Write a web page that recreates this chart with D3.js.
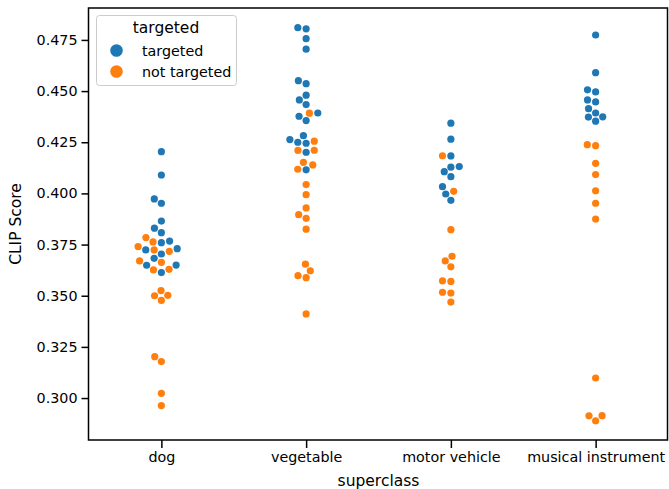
<!DOCTYPE html>
<html>
<head>
<meta charset="utf-8">
<script src="https://cdn.jsdelivr.net/npm/d3@7"></script>
<style>
  html, body { margin: 0; padding: 0; background: #fff; }
  #chart { width: 669px; height: 489px; }
  text { font-family: 'DejaVu Sans', sans-serif; fill: #000; }
</style>
</head>
<body>
<div id="chart"></div>
<script>
const categories = ['dog', 'vegetable', 'motor vehicle', 'musical instrument']
const hueLevels = ['targeted', 'not targeted']
const hueColors = ['#1f77b4', '#ff7f0e']
const yTicks = [0.300, 0.325, 0.350, 0.375, 0.400, 0.425, 0.450, 0.475]

const dogTargeted = [0.4204, 0.4090, 0.3973, 0.3952, 0.3865, 0.3830, 0.3808, 0.3767, 0.3759, 0.3730, 0.3724, 0.3704, 0.3683, 0.3650, 0.3649, 0.3613]
const dogNotTargeted = [0.3784, 0.3763, 0.3740, 0.3724, 0.3717, 0.3670, 0.3663, 0.3629, 0.3626, 0.3525, 0.3502, 0.3500, 0.3477, 0.3202, 0.3178, 0.3023, 0.2963]
const vegetableTargeted = [0.4810, 0.4804, 0.4756, 0.4705, 0.4551, 0.4536, 0.4480, 0.4457, 0.4434, 0.4393, 0.4377, 0.4356, 0.4282, 0.4263, 0.4250, 0.4245, 0.4201, 0.4115]
const vegetableNotTargeted = [0.4392, 0.4255, 0.4211, 0.4210, 0.4152, 0.4139, 0.4118, 0.4043, 0.3994, 0.3929, 0.3896, 0.3878, 0.3825, 0.3654, 0.3622, 0.3598, 0.3588, 0.3411]
const motorTargeted = [0.4343, 0.4265, 0.4183, 0.4131, 0.4128, 0.4106, 0.4082, 0.4033, 0.3997, 0.3966]
const motorNotTargeted = [0.4184, 0.4010, 0.3823, 0.3693, 0.3670, 0.3641, 0.3573, 0.3570, 0.3517, 0.3513, 0.3469]
const musicTargeted = [0.4774, 0.4590, 0.4506, 0.4496, 0.4457, 0.4447, 0.4414, 0.4393, 0.4374, 0.4373, 0.4353]
const musicNotTargeted = [0.4238, 0.4233, 0.4147, 0.4092, 0.4013, 0.3952, 0.3875, 0.3098, 0.2914, 0.2913, 0.2889]

const seriesByCategory = [
  [dogTargeted, dogNotTargeted],
  [vegetableTargeted, vegetableNotTargeted],
  [motorTargeted, motorNotTargeted],
  [musicTargeted, musicNotTargeted],
]

const CHART = Object.freeze({
  WIDTH: 669,
  HEIGHT: 489,
  LEFT: 89,
  RIGHT: 668,
  TOP: 8,
  BOTTOM: 440,
  Y_MIN: 0.2795,
  Y_MAX: 0.4906,
  DOT_R: 3.6,
  SWARM_R: 4.0,
})

const xScale = d3.scalePoint()
  .domain(categories)
  .range([CHART.LEFT, CHART.RIGHT])
  .padding(0.5)

const yScale = d3.scaleLinear()
  .domain([CHART.Y_MIN, CHART.Y_MAX])
  .range([CHART.BOTTOM, CHART.TOP])

// seaborn-like beeswarm: bottom first, pick candidate closest to midline
const beeswarm = (points, midline, r) => {
  const sorted = points.slice().sort((a, b) => a.py - b.py).reverse()
  sorted.sort((a, b) => b.py - a.py)
  const swarm = []
  sorted.forEach((p, idx) => {
    if (idx === 0) {
      p.px = midline
      swarm.push(p)
      return
    }
    const neighbors = []
    for (let j = swarm.length - 1; j >= 0; j--) {
      if (Math.abs(p.py - swarm[j].py) < 2 * r) neighbors.unshift(swarm[j])
      else break
    }
    const candidates = [midline]
    let leftFirst = true
    neighbors.forEach(n => {
      const dy = p.py - n.py
      const dx = Math.sqrt(Math.max(4 * r * r - dy * dy, 0)) * 1.05
      if (leftFirst) candidates.push(n.px - dx, n.px + dx)
      else candidates.push(n.px + dx, n.px - dx)
      leftFirst = !leftFirst
    })
    const ordered = candidates
      .map((x, i) => ({ x, i }))
      .sort((a, b) => Math.abs(a.x - midline) - Math.abs(b.x - midline) || a.i - b.i)
    let chosen = ordered[0].x
    for (const c of ordered) {
      const ok = neighbors.every(n => (n.px - c.x) ** 2 + (n.py - p.py) ** 2 >= 4 * r * r - 1e-6)
      if (ok) { chosen = c.x; break }
    }
    p.px = chosen
    swarm.push(p)
  })
  return points
}

const buildDataset = () => {
  const all = []
  categories.forEach((cat, ci) => {
    const pts = []
    seriesByCategory[ci].forEach((values, hi) => {
      values.forEach(v => pts.push({ category: cat, hue: hueLevels[hi], value: v, py: yScale(v) }))
    })
    beeswarm(pts, xScale(cat), CHART.SWARM_R)
    all.push(...pts)
  })
  return all
}

const buildChart = (dataset) => {
  const svg = d3.select('#chart')
    .append('svg')
    .attr('width', CHART.WIDTH)
    .attr('height', CHART.HEIGHT)

  const yAxis = d3.axisLeft(yScale)
    .tickValues(yTicks)
    .tickFormat(d3.format('.3f'))
    .tickSize(7)
    .tickPadding(4)
  const xAxis = d3.axisBottom(xScale)
    .tickSize(8)
    .tickPadding(4)

  const gy = svg.append('g')
    .attr('transform', `translate(${CHART.LEFT - 0.5}, 0)`)
    .call(yAxis)
  const gx = svg.append('g')
    .attr('transform', `translate(0, ${CHART.BOTTOM})`)
    .call(xAxis)

  ;[gx, gy].forEach(g => {
    g.select('.domain').remove()
    g.selectAll('.tick line').attr('stroke', '#000').attr('stroke-width', 1.5)
    g.selectAll('.tick text')
      .style('font-family', "'DejaVu Sans', sans-serif")
      .style('font-size', '14.3px')
      .attr('fill', '#000')
  })

  svg.selectAll('circle.dot')
    .data(dataset)
    .enter()
    .append('circle')
    .attr('class', 'dot')
    .attr('cx', d => d.px)
    .attr('cy', d => d.py)
    .attr('r', CHART.DOT_R)
    .attr('fill', d => hueColors[hueLevels.indexOf(d.hue)])

  svg.append('rect')
    .attr('x', CHART.LEFT - 0.5)
    .attr('y', CHART.TOP)
    .attr('width', CHART.RIGHT - CHART.LEFT)
    .attr('height', CHART.BOTTOM - CHART.TOP)
    .attr('fill', 'none')
    .attr('stroke', '#000')
    .attr('stroke-width', 1.5)

  svg.append('text')
    .attr('transform', `translate(21, ${(CHART.TOP + CHART.BOTTOM) / 2}) rotate(-90)`)
    .attr('text-anchor', 'middle')
    .style('font-size', '15.5px')
    .text('CLIP Score')

  svg.append('text')
    .attr('x', (CHART.LEFT + CHART.RIGHT) / 2)
    .attr('y', 486)
    .attr('text-anchor', 'middle')
    .style('font-size', '15.5px')
    .text('superclass')

  // legend
  const legend = svg.append('g').attr('transform', 'translate(96, 15)')
  legend.append('rect')
    .attr('x', 0.5)
    .attr('y', 0.5)
    .attr('width', 140)
    .attr('height', 70)
    .attr('rx', 3)
    .attr('fill', 'rgba(255,255,255,0.8)')
    .attr('stroke', '#cccccc')
    .attr('stroke-width', 1)
  legend.append('text')
    .attr('x', 70)
    .attr('y', 18)
    .attr('text-anchor', 'middle')
    .style('font-size', '15.5px')
    .text('targeted')
  hueLevels.forEach((h, i) => {
    legend.append('circle')
      .attr('cx', 20.5)
      .attr('cy', 35.5 + i * 21)
      .attr('r', 6.3)
      .attr('fill', hueColors[i])
    legend.append('text')
      .attr('x', 46)
      .attr('y', 40.5 + i * 21)
      .style('font-size', '14.3px')
      .text(h)
  })
}

document.addEventListener('DOMContentLoaded', () => {
  buildChart(buildDataset())
})
</script>
</body>
</html>
